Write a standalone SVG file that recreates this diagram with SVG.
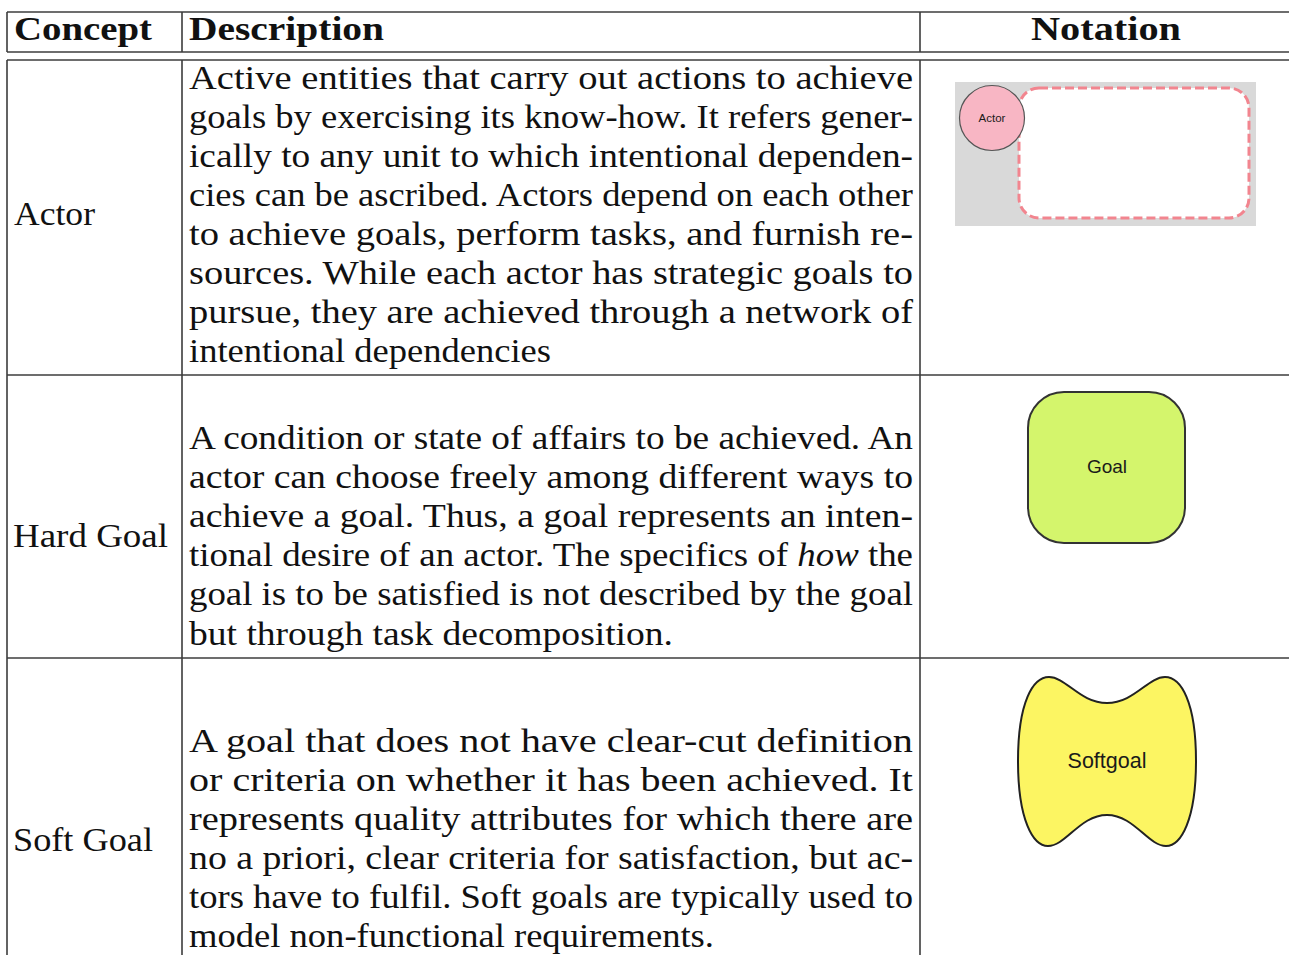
<svg xmlns="http://www.w3.org/2000/svg" width="1289" height="955" viewBox="0 0 1289 955">
  <style>
    .rule { stroke: #3c3c3c; stroke-width: 1.6; fill: none; }
    .body { font-family: "Liberation Serif", "Times New Roman", serif; font-size: 33px; fill: #111; }
    .head { font-family: "Liberation Serif", "Times New Roman", serif; font-size: 33px; font-weight: bold; fill: #111; }
    .lbl { font-family: "Liberation Sans", Arial, sans-serif; fill: #1a1a1a; text-anchor: middle; }
  </style>
  <rect width="1289" height="955" fill="#ffffff"/>

  <!-- table rules -->
  <g id="grid" class="rule">
    <line x1="7" y1="12" x2="1289" y2="12"/>
    <line x1="7" y1="52" x2="1289" y2="52"/>
    <line x1="7" y1="60" x2="1289" y2="60"/>
    <line x1="7" y1="375" x2="1289" y2="375"/>
    <line x1="7" y1="658" x2="1289" y2="658"/>
    <line x1="7" y1="12" x2="7" y2="52"/>
    <line x1="7" y1="60" x2="7" y2="955"/>
    <line x1="182" y1="12" x2="182" y2="52"/>
    <line x1="182" y1="60" x2="182" y2="955"/>
    <line x1="920" y1="12" x2="920" y2="52"/>
    <line x1="920" y1="60" x2="920" y2="955"/>
  </g>

  <!-- header row -->
  <g id="header">
    <text class="head" x="14" y="40" textLength="138" lengthAdjust="spacingAndGlyphs">Concept</text>
    <text class="head" x="189" y="40" textLength="195" lengthAdjust="spacingAndGlyphs">Description</text>
    <text class="head" x="1031" y="40" textLength="150" lengthAdjust="spacingAndGlyphs">Notation</text>
  </g>

  <!-- Actor row -->
  <g id="row-actor">
    <text class="body" x="14" y="225" textLength="81" lengthAdjust="spacingAndGlyphs">Actor</text>
    <g class="body">
      <text x="189" y="89" textLength="724" lengthAdjust="spacingAndGlyphs">Active entities that carry out actions to achieve</text>
      <text x="189" y="128" textLength="724" lengthAdjust="spacingAndGlyphs">goals by exercising its know-how. It refers gener-</text>
      <text x="189" y="167" textLength="724" lengthAdjust="spacingAndGlyphs">ically to any unit to which intentional dependen-</text>
      <text x="189" y="206" textLength="724" lengthAdjust="spacingAndGlyphs">cies can be ascribed. Actors depend on each other</text>
      <text x="189" y="245" textLength="724" lengthAdjust="spacingAndGlyphs">to achieve goals, perform tasks, and furnish re-</text>
      <text x="189" y="284" textLength="724" lengthAdjust="spacingAndGlyphs">sources. While each actor has strategic goals to</text>
      <text x="189" y="323" textLength="724" lengthAdjust="spacingAndGlyphs">pursue, they are achieved through a network of</text>
      <text x="189" y="362" textLength="362" lengthAdjust="spacingAndGlyphs">intentional dependencies</text>
    </g>
  </g>

  <!-- Actor notation: boundary with actor circle -->
  <g id="actor-notation">
    <rect x="955" y="82" width="301" height="144" fill="#d9d9d9"/>
    <rect x="1019" y="88" width="230" height="130" rx="20" ry="20" fill="#ffffff" stroke="#f2858f" stroke-width="3" stroke-dasharray="9 4"/>
    <circle cx="992" cy="118" r="32.5" fill="#f8b6c4" stroke="#555" stroke-width="1.2"/>
    <text class="lbl" x="992" y="122" font-size="11.5">Actor</text>
  </g>

  <!-- Hard Goal row -->
  <g id="row-hardgoal">
    <text class="body" x="13" y="547" textLength="155" lengthAdjust="spacingAndGlyphs">Hard Goal</text>
    <g class="body">
      <text x="189" y="449" textLength="724" lengthAdjust="spacingAndGlyphs">A condition or state of affairs to be achieved. An</text>
      <text x="189" y="488" textLength="724" lengthAdjust="spacingAndGlyphs">actor can choose freely among different ways to</text>
      <text x="189" y="527" textLength="724" lengthAdjust="spacingAndGlyphs">achieve a goal. Thus, a goal represents an inten-</text>
      <text x="189" y="566" textLength="724" lengthAdjust="spacingAndGlyphs">tional desire of an actor. The specifics of <tspan font-style="italic">how</tspan> the</text>
      <text x="189" y="605" textLength="724" lengthAdjust="spacingAndGlyphs">goal is to be satisfied is not described by the goal</text>
      <text x="189" y="645" textLength="484" lengthAdjust="spacingAndGlyphs">but through task decomposition.</text>
    </g>
  </g>

  <!-- Goal notation -->
  <g id="goal-notation">
    <rect x="1028" y="392" width="157" height="151" rx="36" ry="36" fill="#d4f56c" stroke="#333" stroke-width="2"/>
    <text class="lbl" x="1107" y="473" font-size="19">Goal</text>
  </g>

  <!-- Soft Goal row -->
  <g id="row-softgoal">
    <text class="body" x="13" y="851" textLength="140" lengthAdjust="spacingAndGlyphs">Soft Goal</text>
    <g class="body">
      <text x="189" y="752" textLength="724" lengthAdjust="spacingAndGlyphs">A goal that does not have clear-cut definition</text>
      <text x="189" y="791" textLength="724" lengthAdjust="spacingAndGlyphs">or criteria on whether it has been achieved. It</text>
      <text x="189" y="830" textLength="724" lengthAdjust="spacingAndGlyphs">represents quality attributes for which there are</text>
      <text x="189" y="869" textLength="724" lengthAdjust="spacingAndGlyphs">no a priori, clear criteria for satisfaction, but ac-</text>
      <text x="189" y="908" textLength="724" lengthAdjust="spacingAndGlyphs">tors have to fulfil. Soft goals are typically used to</text>
      <text x="189" y="947" textLength="525" lengthAdjust="spacingAndGlyphs">model non-functional requirements.</text>
    </g>
  </g>

  <!-- Softgoal notation: concave top and bottom, bulging sides -->
  <g id="softgoal-notation">
    <path d="M 1049 677 C 1066 677, 1080 703, 1107 703 C 1134 703, 1148 677, 1165 677 C 1181 677, 1196 702, 1196 761 C 1196 820, 1181 846, 1166 846 C 1148 846, 1134 815, 1107 815 C 1080 815, 1066 846, 1048 846 C 1033 846, 1018 820, 1018 761 C 1018 702, 1033 677, 1049 677 Z" fill="#fcf562" stroke="#222" stroke-width="2"/>
    <text class="lbl" x="1107" y="768" font-size="21.5">Softgoal</text>
  </g>
</svg>
